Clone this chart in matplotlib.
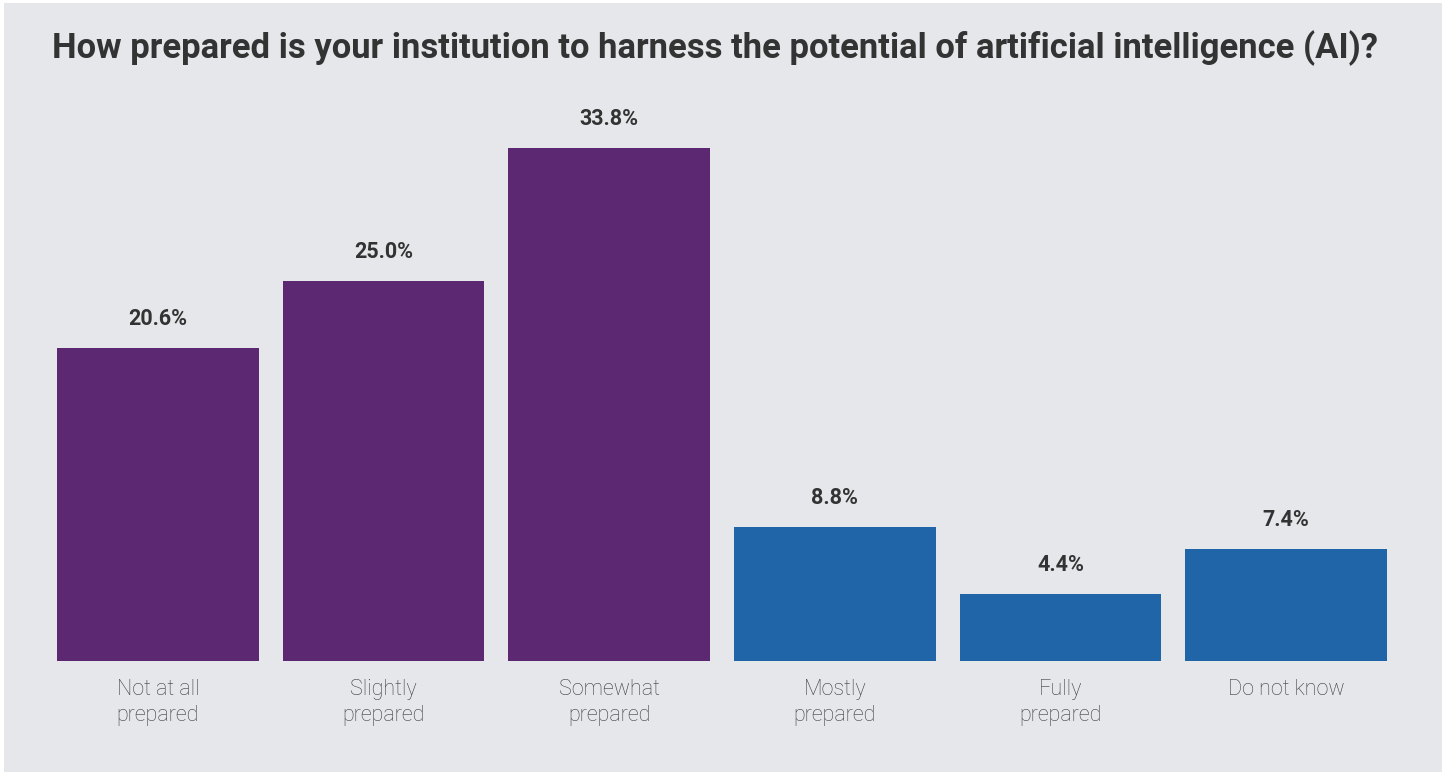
import matplotlib
matplotlib.use("Agg")
import matplotlib.pyplot as plt
from matplotlib.patches import Rectangle

categories = ["Not at all\nprepared", "Slightly\nprepared", "Somewhat\nprepared",
              "Mostly\nprepared", "Fully\nprepared", "Do not know"]
values = [20.6, 25.0, 33.8, 8.8, 4.4, 7.4]
colors = ["#5c2872", "#5c2872", "#5c2872", "#2065a8", "#2065a8", "#2065a8"]

title = "How prepared is your institution to harness the potential of artificial intelligence (AI)?"

plt.rcParams['font.family'] = ['Roboto', 'DejaVu Sans']

W, H = 1442, 772
fig = plt.figure(figsize=(W / 100, H / 100), dpi=100, facecolor="white")
bg = "#e6e7eb"
fig.patches.append(Rectangle((4 / W, 0), (W - 4) / W, (H - 3) / H,
                             transform=fig.transFigure, facecolor=bg,
                             edgecolor="none", zorder=-10))

# axes in pixel terms: x 45..1399, baseline at y=661, top at y=114.5
ax = fig.add_axes([45 / W, (H - 661) / H, (1399 - 45) / W, (661 - 114.5) / H])
ax.set_facecolor("none")
ax.set_zorder(5)

x = list(range(len(values)))
ax.bar(x, values, width=0.895, color=colors)
for xi, v in zip(x, values):
    ax.annotate(f"{v:.1f}%", (xi, v), xytext=(0, 29), textcoords="offset pixels",
                ha="center", va="center", fontsize=15.5, fontweight="bold",
                color="#333333")

ax.set_xlim(-0.5, 5.5)
ax.set_ylim(0, 36)
ax.set_xticks(x)
ax.set_xticklabels(categories, fontsize=15.5, color="#3d3d3d",
                   fontweight="light", linespacing=1.3)
ax.tick_params(axis="x", length=0, pad=13)
ax.set_yticks([])
for s in ax.spines.values():
    s.set_visible(False)

fig.text(52 / W, 1 - 48 / H, title, ha="left", va="center",
         fontsize=24.9, fontweight="bold", color="#333333", zorder=10)

fig.savefig("out.png", dpi=100, facecolor=fig.get_facecolor())
